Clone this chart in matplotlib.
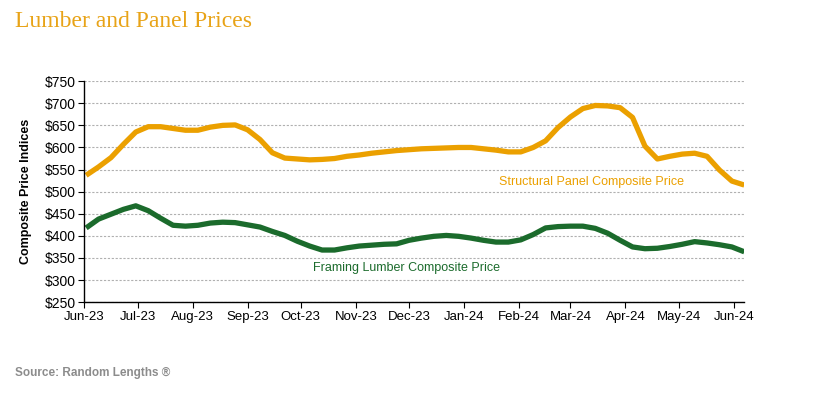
import numpy as np
import pandas as pd
import matplotlib
matplotlib.use('Agg')
import matplotlib.pyplot as plt
import matplotlib.dates as mdates

# weekly composite prices, Jun 2023 - Jun 2024
weeks = pd.date_range('2023-06-02', periods=54, freq='7D')

panel = [537, 556, 577, 607, 635, 647, 647, 643, 639, 639,
         646, 650, 651, 640, 618, 588, 576, 574, 572, 573,
         575, 580, 583, 587, 590, 593, 595, 597, 598, 599,
         600, 600, 597, 594, 590, 590, 600, 615, 645, 669,
         688, 695, 694, 690, 668, 603, 574, 580, 585, 587,
         580, 549, 524, 515]

lumber = [418, 438, 449, 460, 468, 457, 440, 424, 422, 424,
          429, 431, 430, 425, 420, 410, 401, 388, 377, 368,
          368, 373, 377, 379, 381, 382, 390, 395, 399, 401,
          399, 395, 390, 386, 386, 391, 403, 418, 421, 422,
          422, 417, 406, 390, 375, 371, 372, 376, 381, 387,
          384, 380, 375, 364]

yticks = list(range(250, 751, 50))

ORANGE = '#EBA000'
GREEN = '#1B6B2C'

plt.rcParams['font.family'] = ['Liberation Sans', 'DejaVu Sans']

fig = plt.figure(figsize=(8.27, 3.94), dpi=100)
ax = fig.add_axes([0.102, 0.233, 0.798, 0.561])

ax.plot(weeks, panel, color=ORANGE, lw=3.8, solid_capstyle='butt', solid_joinstyle='round')
ax.plot(weeks, lumber, color=GREEN, lw=3.8, solid_capstyle='butt', solid_joinstyle='round')

ax.set_ylim(250, 750)
ax.set_yticks(yticks)
ax.set_yticklabels([f'${v}' for v in yticks], fontsize=10)
ax.set_xlim(pd.Timestamp('2023-06-01'), pd.Timestamp('2024-06-07'))
ax.xaxis.set_major_locator(mdates.MonthLocator())
ax.xaxis.set_major_formatter(mdates.DateFormatter('%b-%y'))
ax.tick_params(axis='x', labelsize=9.5, length=4, direction='out', color='black', pad=2)
ax.tick_params(axis='y', length=4, direction='out', color='black', pad=2)

ax.grid(axis='y', color='#b0b0b0', lw=0.8, ls=(0, (2, 1.5)))
ax.set_axisbelow(True)
for s in ['top', 'right']:
    ax.spines[s].set_visible(False)
for s in ['left', 'bottom']:
    ax.spines[s].set_color('black')
    ax.spines[s].set_linewidth(1)

ax.set_ylabel('Composite Price Indices', fontsize=9, fontweight='bold', labelpad=9)

ax.text(pd.Timestamp('2024-01-21'), 521, 'Structural Panel Composite Price',
        color=ORANGE, fontsize=9, ha='left', va='center')
ax.text(pd.Timestamp('2023-10-08'), 328, 'Framing Lumber Composite Price',
        color=GREEN, fontsize=9, ha='left', va='center')

fig.text(0.018, 0.945, 'Lumber and Panel Prices', family='Liberation Serif',
         color='#E8A317', fontsize=17, ha='left', va='center')
fig.text(0.018, 0.053, 'Source: Random Lengths \u00ae', color='#8C8C8C',
         fontsize=8.5, fontweight='bold', ha='left', va='center')

fig.savefig('out.png', dpi=100)
